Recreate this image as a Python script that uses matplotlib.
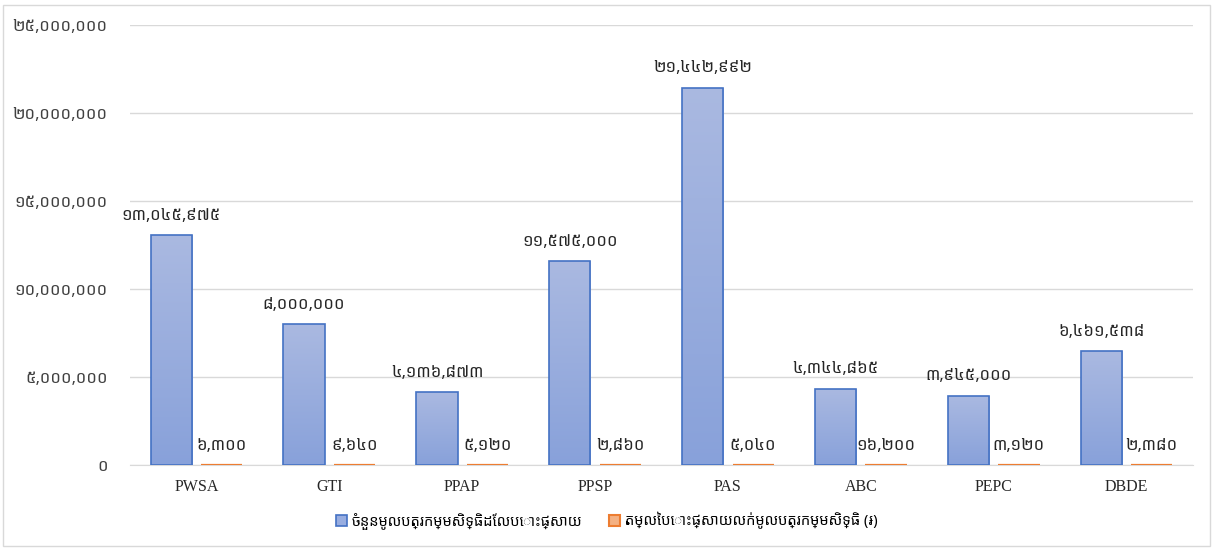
import numpy as np
import matplotlib
matplotlib.use("Agg")
import matplotlib.pyplot as plt
from matplotlib import font_manager
from matplotlib.patches import Rectangle

categories = ["PWSA", "GTI", "PPAP", "PPSP", "PAS", "ABC", "PEPC", "DBDE"]
shares = [13045975, 8000000, 4136873, 11575000, 21442992, 4344865, 3945000, 6461538]
prices = [6300, 9640, 5120, 2860, 5040, 16200, 3120, 2380]
series_names = ["ចំនួនមូលបត្រកម្មសិទ្ធិដែលបោះផ្សាយ", "តម្លៃបោះផ្សាយលក់មូលបត្រកម្មសិទ្ធិ (៛)"]
yticks = [0, 5000000, 10000000, 15000000, 20000000, 25000000]

installed = {f.name for f in font_manager.fontManager.ttflist}
wanted = ["Noto Sans Khmer", "Noto Sans Khmer UI", "Hanuman", "Battambang", "Khmer"]
kfam = [f for f in wanted if f in installed][:1] + ["DejaVu Sans"]

KH = str.maketrans("0123456789", "០១២៣៤៥៦៧៨៩")


def kh(n):
    return f"{n:,}".translate(KH)


fig = plt.figure(figsize=(12.13, 5.49), dpi=100)
fig.patches.append(Rectangle((3 / 1213, 3 / 549), 1207 / 1213, 541 / 549, transform=fig.transFigure,
                             fill=False, edgecolor="#d9d9d9", linewidth=1))
ax = fig.add_axes([130 / 1213, 1 - 465 / 549, 1063 / 1213, 440 / 549])

x = np.arange(len(categories))
w = 0.31
off = 0.19
b1 = ax.bar(x - off, shares, w, color="#98ade0", edgecolor="#4472c4", linewidth=1.2, zorder=3)
b2 = ax.bar(x + off, prices, w, color="#f4b183", edgecolor="#ed7d31", linewidth=1.6, zorder=3)

# vertical gradient inside the blue bars
grad = np.linspace(0, 1, 256).reshape(-1, 1)
cmap = matplotlib.colors.LinearSegmentedColormap.from_list("g", ["#88a1da", "#aab9e1"])
for r in b1:
    bx, by, bw, bh = r.get_x(), r.get_y(), r.get_width(), r.get_height()
    im = ax.imshow(grad, cmap=cmap, origin="lower", aspect="auto",
                   extent=[bx, bx + bw, by, by + bh], zorder=3)
    im.set_clip_path(r)
    r.set_facecolor("none")
    r.set_zorder(4)

ax.set_xlim(-0.5, len(categories) - 0.5)
ax.set_ylim(0, 25000000)
ax.set_yticks(yticks)
ax.set_yticklabels([kh(v) for v in yticks], family=kfam, fontsize=12, color="#404040")
ax.set_xticks(x)
ax.set_xticklabels(categories, family="Liberation Serif", fontsize=11.5, color="#262626")
ax.tick_params(axis="y", length=0, pad=16)
ax.tick_params(axis="x", length=0, pad=10)
ax.grid(axis="y", color="#d9d9d9", linewidth=1, zorder=0)
for s in ["top", "right", "left"]:
    ax.spines[s].set_visible(False)
ax.spines["bottom"].set_color("#d9d9d9")

for xi, v in zip(x, shares):
    ax.annotate(kh(v), (xi - off, v), xytext=(0, 8), textcoords="offset points",
                ha="center", va="bottom", fontsize=12, family=kfam, color="#262626")
for xi, v in zip(x, prices):
    ax.annotate(kh(v), (xi + off, v), xytext=(0, 8), textcoords="offset points",
                ha="center", va="bottom", fontsize=12, family=kfam, color="#262626")

h1 = Rectangle((0, 0), 1, 1, facecolor="#98ade0", edgecolor="#4472c4", linewidth=1.2)
h2 = Rectangle((0, 0), 1, 1, facecolor="#f4b183", edgecolor="#ed7d31", linewidth=1.5)
fig.legend([h1, h2], series_names, loc="center", bbox_to_anchor=(0.5, 1 - 521 / 549), ncol=2,
           frameon=False, prop={"family": kfam, "size": 10.5}, handlelength=0.8, handleheight=0.8,
           handletextpad=0.3, columnspacing=1.8)

fig.savefig("out.png", dpi=100)
